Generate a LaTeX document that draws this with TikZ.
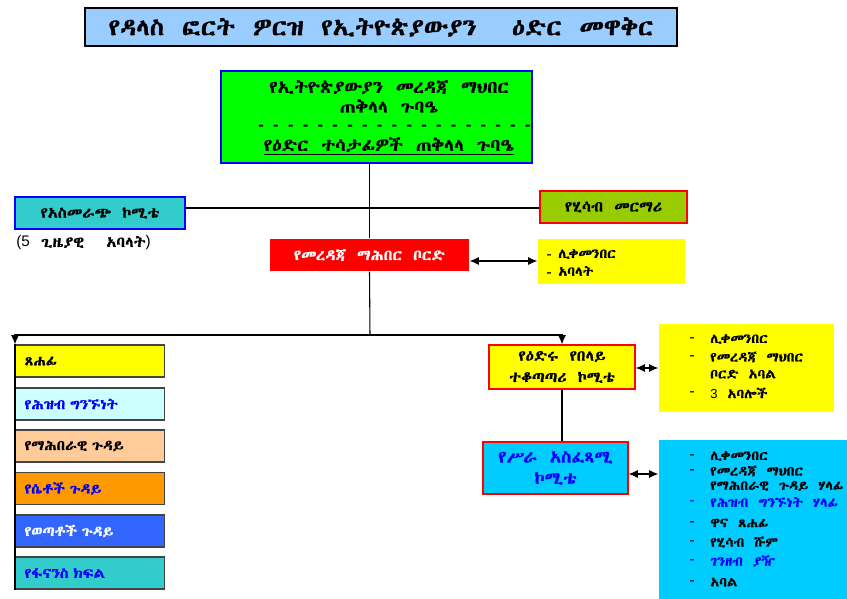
\documentclass[tikz,border=0pt]{standalone}
\usepackage{fontspec}
\newif\ifethfound
\def\ethname{DejaVu Sans}
\newcommand\tryeth[1]{%
  \ifethfound\else
    \IfFontExistsTF{#1}{%
      \begingroup\fontspec{#1}%
        \iffontchar\font"1200 \global\ethfoundtrue\gdef\ethname{#1}\fi
      \endgroup}{}%
  \fi}
\tryeth{Abyssinica SIL}
\tryeth{FreeSerif}
\tryeth{FreeSerif.otf}
\tryeth{FreeSerif.ttf}
\tryeth{FreeSans}
\tryeth{Ethiopia Jiret}
\tryeth{Unifont}
\tryeth{Code2000}
\edef\ethdef{\noexpand\newfontfamily\noexpand\eth[FakeStretch=1.12,FakeBold=1.2,WordSpace=1.5]{\ethname}}
\ethdef
\newfontfamily\lat{Liberation Sans}
\usetikzlibrary{arrows.meta}
\definecolor{titleblue}{HTML}{99CCFF}
\definecolor{grn}{HTML}{00FF00}
\definecolor{teal}{HTML}{33CCCC}
\definecolor{olive}{HTML}{99CC00}
\definecolor{ylw}{HTML}{FFFF00}
\definecolor{lcyan}{HTML}{CCFFFF}
\definecolor{peach}{HTML}{FFCC99}
\definecolor{orng}{HTML}{FF9900}
\definecolor{blu}{HTML}{3366FF}
\definecolor{cyn}{HTML}{00CCFF}
\definecolor{txtblue}{HTML}{0000FF}
\definecolor{edgegray}{HTML}{444444}
\begin{document}
\begin{tikzpicture}[x=0.75pt,y=-0.75pt,
  wh/.style 2 args={minimum width=#1*0.75pt, minimum height=#2*0.75pt},
  box/.style={inner sep=0pt, line width=0.8pt},
  big/.style={font=\eth\fontsize{12.8}{15}\selectfont},
  mid/.style={font=\eth\fontsize{11}{16}\selectfont},
  colbox/.style={box, draw=edgegray, wh={149}{32}, anchor=west, inner xsep=9*0.75pt, text width=131*0.75pt, align=left, font=\eth\fontsize{10.5}{12}\selectfont},
  lst/.style={anchor=west, inner sep=0pt, font=\eth\fontsize{9.8}{12}\selectfont},
  conn/.style={line width=0.8pt, black},
  dbl/.style={conn, {Latex[length=7pt,width=6pt]}-{Latex[length=7pt,width=6pt]}},
  dn/.style={conn, -{Latex[length=7pt,width=6pt]}}]
\useasboundingbox (0,0) rectangle (847,599);

% title
\node[box, wh={592}{38}, draw=black, line width=1.6pt, fill=titleblue,
      font=\eth\fontsize{17.5}{21}\selectfont] (title) at (381,27) {የዳላስ ፎርት ዎርዝ የኢትዮጵያውያን \ ዕድር መዋቅር};

% general assembly
\node[box, wh={311}{92}, draw=blue, fill=grn] (ga) at (376.5,117) {};
\node[big] (ga1) at (389,87) {የኢትዮጵያውያን መረዳጃ ማህበር};
\node[big] (ga2) at (389,106) {ጠቅላላ ጉባዔ};
\node[font=\lat\bfseries\fontsize{12.5}{14}\selectfont] (ga3) at (394.5,128) {-\ \ -\ \ -\ \ -\ \ -\ \ -\ \ -\ \ -\ \ -\ \ -\ \ -\ \ -\ \ -\ \ -\ \ -\ \ -\ \ -\ \ -\ \ -};
\node[big] (ga4) at (389,146) {\underline{የዕድር ተሳታፊዎች ጠቅላላ ጉባዔ}};

% election committee
\node[box, wh={170}{32}, draw=blue, fill=teal, mid] (asm) at (100,213) {የአስመራጭ ኮሚቴ};
\node[anchor=west, inner sep=0pt, mid] (asmnote) at (16,243) {{\lat\fontsize{11.5}{14}\selectfont(5} ጊዜያዊ \ አባላት{\lat\fontsize{11.5}{14}\selectfont)}};

% auditor
\node[box, wh={147}{32}, draw=red, fill=olive, mid] (hisab) at (613.5,207) {የሂሳብ መርማሪ};

% board
\node[box, wh={199}{32}, fill=red, text=white, mid] (board) at (369.5,255) {የመረዳጃ ማሕበር ቦርድ};
\node[box, wh={147}{45}, fill=ylw] (boardlist) at (611.5,261.5) {};
\node[lst] (bl1) at (546,254) {-\hspace{5pt}ሊቀመንበር};
\node[lst] (bl2) at (546,271) {-\hspace{5pt}አባላት};

% connectors top
\coordinate (h) at (370,208);
\coordinate (jn) at (370,335);
\draw[conn] (board.north |- ga.south) -- (board.north);
\draw[conn] (asm.east |- h) -- (hisab.west |- h);
\draw[dbl] (board.east |- 0,261) -- (boardlist.west |- 0,261);
\draw[conn] (board.south) -- (jn);

% left column
\node[colbox, fill=ylw] (c1) at (15,361) {ጸሐፊ};
\node[colbox, fill=lcyan, text=txtblue] (c2) at (15,404) {የሕዝብ ግንኙነት};
\node[colbox, fill=peach] (c3) at (15,446) {የማሕበራዊ ጉዳይ};
\node[colbox, fill=orng, text=txtblue] (c4) at (15,488.5) {የሴቶች ጉዳይ};
\node[colbox, fill=blu, text=white] (c5) at (15,531) {የወጣቶች ጉዳይ};
\node[colbox, fill=teal, text=txtblue] (c6) at (15,573) {የፋናንስ ክፍል};

\draw[dn] (jn) -| (c1.north west);
\draw[conn] (c1.north west) -- (c6.south west);

% supervisory committee
\node[box, wh={146}{44}, draw=red, fill=ylw, mid, align=center] (sup) at (562,367) {የዕድሩ የበላይ\\ተቆጣጣሪ ኮሚቴ};
\draw[dn] (jn) -| (sup.north);
\node[box, wh={175}{88}, fill=ylw] (suplist) at (746.5,368) {};
\node[lst] (s1d) at (689,339) {-};
\node[lst] (s1) at (710,339) {ሊቀመንበር};
\node[lst] (s2d) at (689,357) {-};
\node[lst] (s2) at (710,357) {የመረዳጃ ማህበር};
\node[lst] (s3) at (710,374) {ቦርድ አባል};
\node[lst] (s4d) at (689,393) {-};
\node[lst] (s4) at (710,393) {{\lat 3} አባሎች};
\draw[dbl] (sup.east |- 0,368) -- (suplist.west |- 0,368);

% executive committee
\node[box, wh={145}{52}, draw=red, fill=cyn, text=txtblue, align=center,
      font=\eth\fontsize{12.5}{16}\selectfont] (work) at (555.5,468) {የሥራ አስፈጻሚ\\ኮሚቴ};
\draw[conn] (sup.south) -- (sup.south |- work.north);
\node[box, wh={188}{159}, fill=cyn] (worklist) at (753,519.5) {};
\draw[dbl] (work.east |- 0,474) -- (worklist.west |- 0,474);
\node[lst] (w1d) at (689,456) {-};
\node[lst] (w1) at (710,456) {ሊቀመንበር};
\node[lst] (w2d) at (689,471) {-};
\node[lst] (w2) at (710,471) {የመረዳጃ ማህበር};
\node[lst] (w3) at (710,486) {የማሕበራዊ ጉዳይ ሃላፊ};
\node[lst, text=txtblue] (w4d) at (689,502) {-};
\node[lst, text=txtblue] (w4) at (710,502) {የሕዝብ ግንኙነት ሃላፊ};
\node[lst] (w5d) at (689,523) {-};
\node[lst] (w5) at (710,523) {ዋና ጸሐፊ};
\node[lst] (w6d) at (689,542) {-};
\node[lst] (w6) at (710,542) {የሂሳብ ሹም};
\node[lst, text=txtblue] (w7d) at (689,561) {-};
\node[lst, text=txtblue] (w7) at (710,561) {ገንዘብ ያዥ};
\node[lst] (w8d) at (689,582) {-};
\node[lst] (w8) at (710,582) {አባል};
\end{tikzpicture}
\end{document}
